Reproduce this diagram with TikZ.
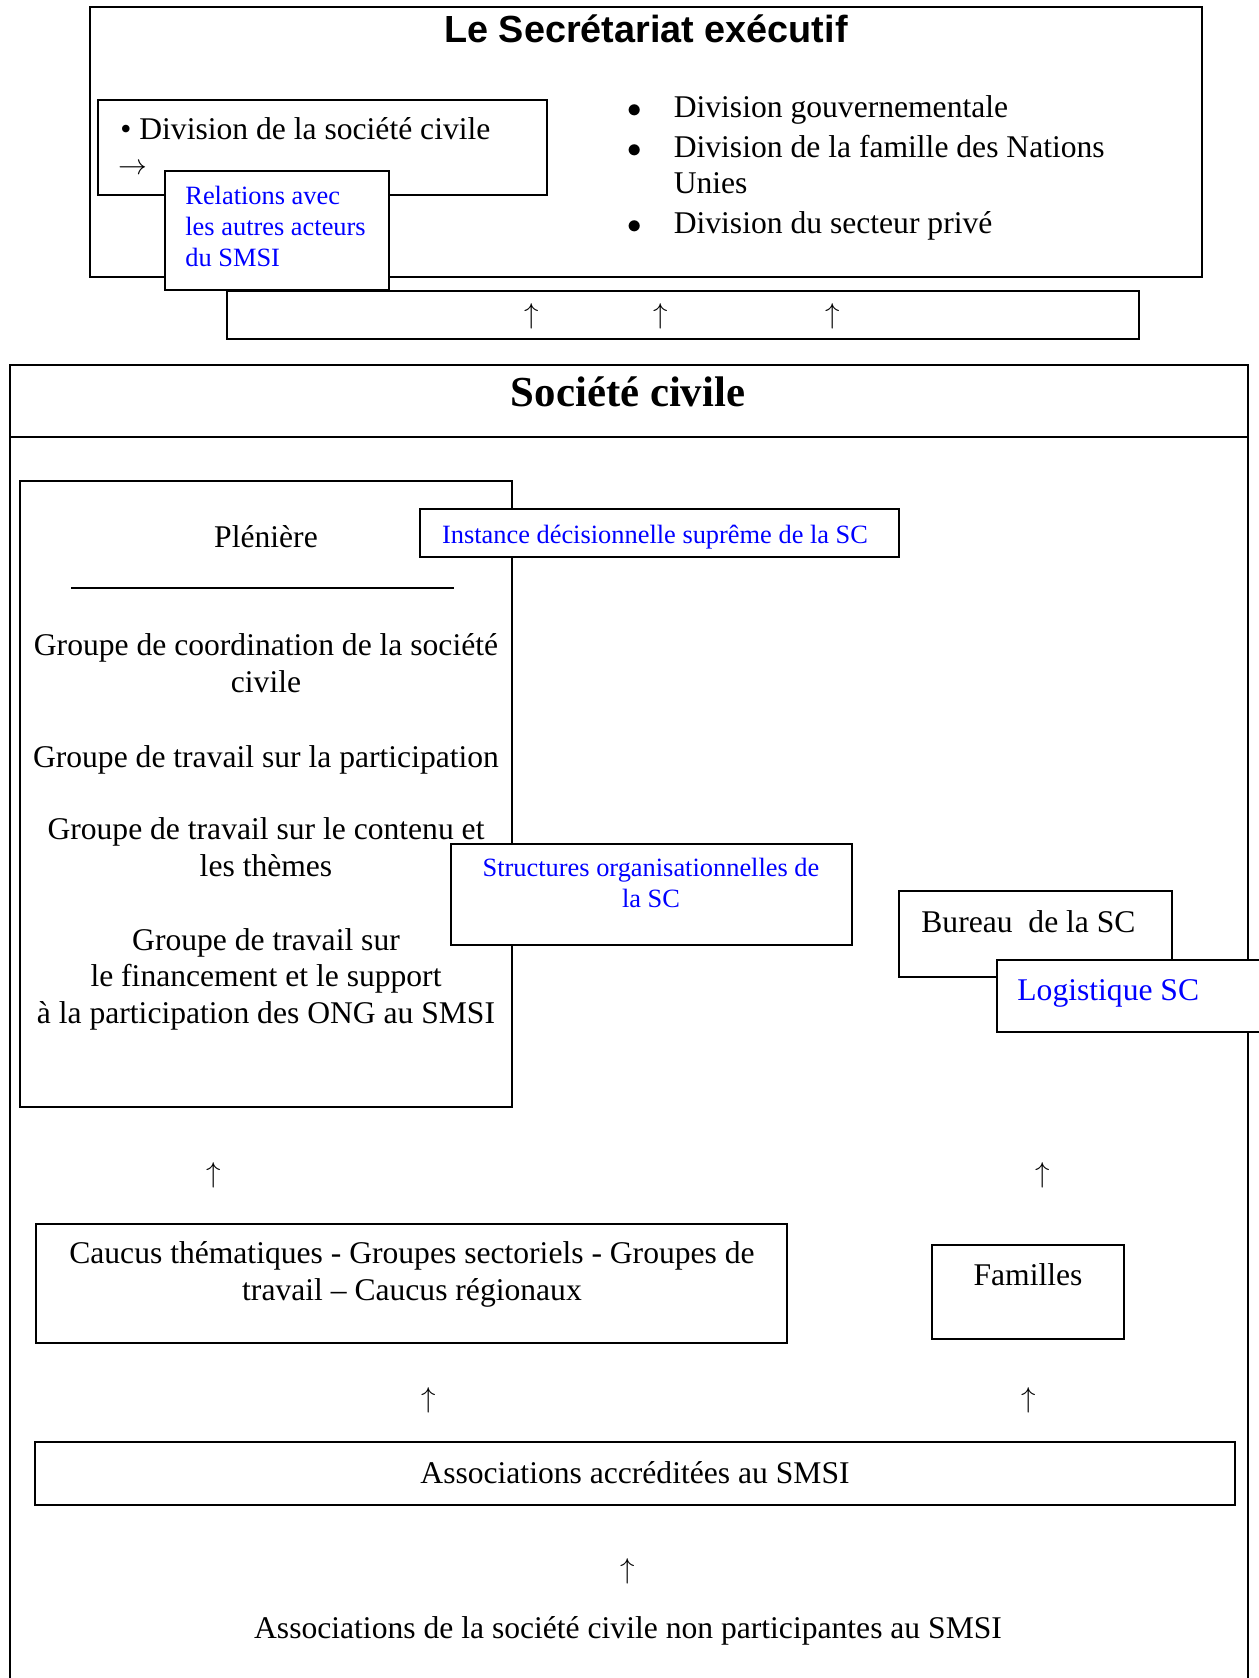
\documentclass[tikz,border=0pt]{standalone}
\usepackage{fontspec}
\setmainfont{Liberation Serif}
\newfontfamily\headsans{Liberation Sans}
\usetikzlibrary{fit}
\usetikzlibrary{positioning}

\newcommand{\txtsize}{\fontsize{15.8}{18.2}\selectfont}
\newcommand{\bluesize}{\fontsize{13.2}{15.5}\selectfont}

\begin{document}
\begin{tikzpicture}[x=0.5pt,y=-0.5pt,
    box/.style={draw, line width=0.7pt, inner sep=0pt},
    cover/.style={box, fill=white},
    txt/.style={font=\txtsize, inner sep=0pt, anchor=base},
    note/.style={font=\bluesize, text=blue, inner sep=0pt, anchor=base},
    uparr/.style={font=\txtsize, inner sep=0pt}]
    \useasboundingbox (0,0) rectangle (1259,1678);
    % le secretariat executif
    \node[box, fit={(90,7) (1202,277)}] (secr) {};
    \node[font=\headsans\bfseries\fontsize{18.9}{22}\selectfont, inner sep=0pt, anchor=base] (secrtitle) at (646,42) {Le Secrétariat exécutif};
    \node[box, fit={(98,100) (547,195)}] (divsc) {};
    \node[txt, anchor=base west] (divsctxt) at (120,139) {• Division de la société civile};
    \node[txt, anchor=west] (divscarr) at (118,169) {$\rightarrow$};
    \node[cover, fit={(165,171) (389,290)}] (relat) {};
    % base = derniere ligne
    \node[note, anchor=base west, align=left] (relattxt) at (185,266) {Relations avec\\les autres acteurs\\du SMSI};
    \node[txt, anchor=base west] (divlist) at (627,117) {%
        \begin{tabular}[t]{@{}c@{\hspace{16pt}}l@{}}
        $\bullet$ & Division gouvernementale\\[1.8pt]
        $\bullet$ & Division de la famille des Nations\\
                  & Unies\\[1.8pt]
        $\bullet$ & Division du secteur privé
        \end{tabular}};
    \node[box, fit={(227,291) (1139,339)}] (liens) {};
    \node[uparr] (up1) at (532,316) {$\uparrow$};
    \node[uparr] (up2) at (661,316) {$\uparrow$};
    \node[uparr] (up3) at (833,316) {$\uparrow$};
    % la societe civile
    \node[box, fit={(10,365) (1248,1700)}] (sc) {};
    \draw[line width=0.7pt] (sc.west |- 0,437) -- (sc.east |- 0,437);
    \node[font=\bfseries\fontsize{21.4}{25}\selectfont, inner sep=0pt, anchor=base] (sctitle) at (628,406) {Société civile};
    \node[box, fit={(20,481) (512,1107)}] (pleniere) {};
    \node[txt] (plentxt) at (266,547) {Plénière};
    \draw[line width=0.6pt] (71,588) -- (454,588);
    \node[txt, align=center] (grcoord) at (266,692) {Groupe de coordination de la société\\civile};
    \node[txt] (grpart) at (266,767) {Groupe de travail sur la participation};
    \node[txt, align=center] (grcont) at (266,876) {Groupe de travail sur le contenu et\\les thèmes};
    \node[txt, align=center] (grfin) at (266,1023) {Groupe de travail sur\\le financement et le support\\à la participation des ONG au SMSI};
    \node[cover, fit={(420,509) (899,557)}] (instance) {};
    \node[note] (instxt) at (655,543) {Instance décisionnelle suprême de la SC};
    \node[cover, fit={(451,844) (852,945)}] (struct) {};
    \node[note, align=center] (structxt) at (651,907) {Structures organisationnelles de\\la SC};
    \node[box, fit={(899,891) (1172,977)}] (bureau) {};
    \node[txt, anchor=base west] (burtxt) at (921,932) {Bureau~~de la SC};
    \node[cover, fit={(997,960) (1290,1032)}] (logist) {};
    \node[txt, text=blue, anchor=base west] (logtxt) at (1017,1000) {Logistique SC};
    \node[uparr] (up4) at (214,1175) {$\uparrow$};
    \node[uparr] (up5) at (1043,1175) {$\uparrow$};
    \node[box, fit={(36,1224) (787,1343)}] (caucus) {};
    \node[txt, align=center] (caucustxt) at (412,1300) {Caucus thématiques - Groupes sectoriels - Groupes de\\travail – Caucus régionaux};
    \node[box, fit={(932,1245) (1124,1339)}] (familles) {};
    \node[txt] (famtxt) at (1028,1285) {Familles};
    \node[uparr] (up6) at (429,1400) {$\uparrow$};
    \node[uparr] (up7) at (1029,1400) {$\uparrow$};
    \node[box, fit={(35,1442) (1235,1505)}] (accred) {};
    \node[txt] (accredtxt) at (635,1483) {Associations accréditées au SMSI};
    \node[uparr] (up8) at (628,1571) {$\uparrow$};
    \node[txt] (nonpart) at (628,1638) {Associations de la société civile non participantes au SMSI};
\end{tikzpicture}
\end{document}
